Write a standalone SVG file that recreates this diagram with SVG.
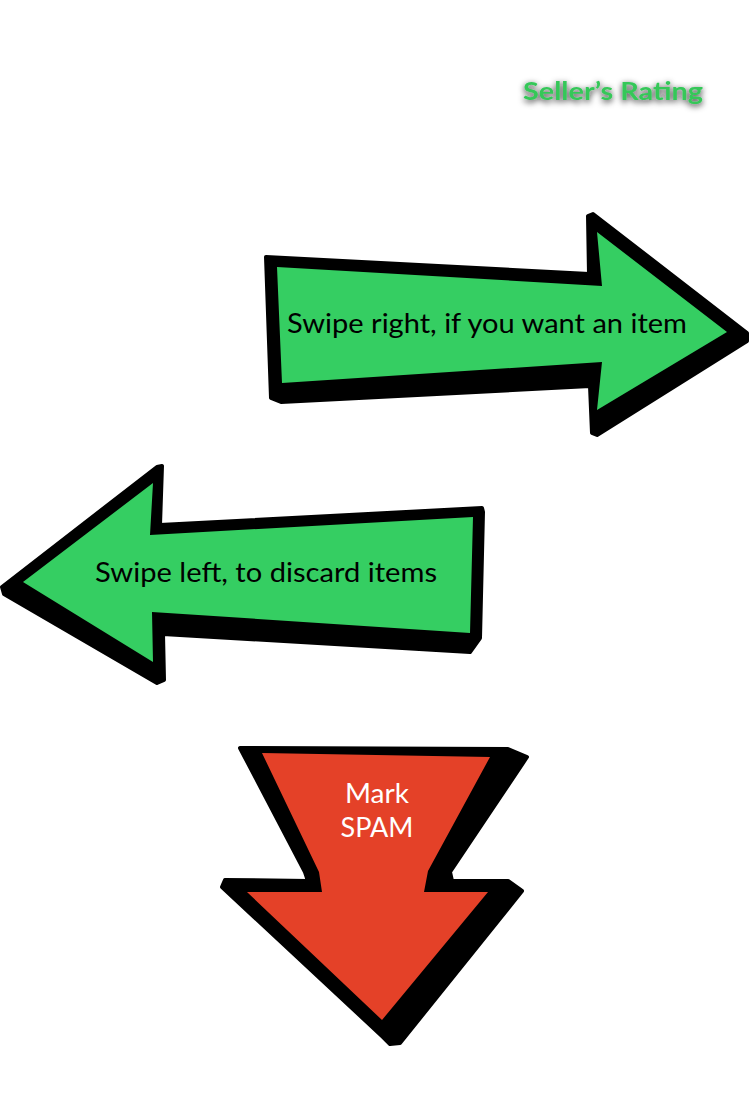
<svg xmlns="http://www.w3.org/2000/svg" width="750" height="1118" viewBox="0 0 750 1118">
<defs>
<style>
.outline{fill:#000;stroke:#000;stroke-width:4;stroke-linejoin:round}
.green{fill:#35CE62}
.red{fill:#E44128}
.lbl{font-family:Lato,"Noto Sans","Liberation Sans",sans-serif;font-size:27px;fill:#000}
.white{fill:#fff;font-size:26px;text-anchor:middle}
.title{font-family:Lato,"Noto Sans","Liberation Sans",sans-serif;font-size:25px;font-weight:bold;fill:#34C759}
</style>
<filter id="glow" x="-20%" y="-60%" width="140%" height="220%">
<feGaussianBlur in="SourceAlpha" stdDeviation="3" result="b"/>
<feOffset in="b" dx="0" dy="2" result="o"/>
<feFlood flood-color="#111" flood-opacity="0.9"/>
<feComposite in2="o" operator="in" result="s"/>
<feMerge><feMergeNode in="s"/><feMergeNode in="SourceGraphic"/></feMerge>
</filter>
</defs>
<rect width="750" height="1118" fill="#fff"/>
<g id="title">
<text class="title" x="523" y="100" textLength="180" lengthAdjust="spacingAndGlyphs" filter="url(#glow)">Seller’s Rating</text>
</g>
<g id="swipe-right">
<polygon class="outline" points="266,257 589,274 588,216 593,214 747,333 747,341 597,435 592,433 590,386 281,402 271,398"/>
<polygon class="green" points="277,267 602,286 597,232 727,332 597,410 602,362 282,383"/>
<text class="lbl" x="287" y="333" textLength="400" lengthAdjust="spacingAndGlyphs">Swipe right, if you want an item</text>
</g>
<g id="swipe-left">
<polygon class="outline" points="2,587 157,467 162,466 160,525 482,508 483,512 480,638 470,652 163,634 164,680 157,683 4,594"/>
<polygon class="green" points="23,582 153,483 150,535 473,517 470,633 152,612 153,662"/>
<text class="lbl" x="95" y="582" textLength="342" lengthAdjust="spacingAndGlyphs">Swipe left, to discard items</text>
</g>
<g id="mark-spam">
<polygon class="outline" points="240,748 508,749 527,757 450,872 452,881 508,881 522,891 400,1043 390,1044 383,1037 222,887 225,880 308,881 305,872"/>
<polygon class="red" points="262,753 490,757 428,871 424,892 488,892 382,1020 247,892 322,892 319,872"/>
<text class="lbl white" x="377" y="803" textLength="64" lengthAdjust="spacingAndGlyphs">Mark</text>
<text class="lbl white" x="377" y="837" textLength="73" lengthAdjust="spacingAndGlyphs">SPAM</text>
</g>
</svg>
